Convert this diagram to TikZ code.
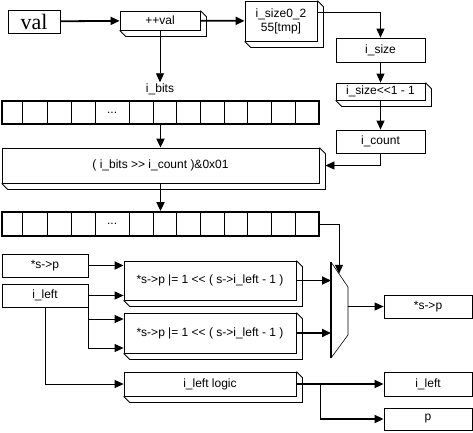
\documentclass[tikz,border=0pt]{standalone}
\usepackage{fontspec}
\setmainfont{Liberation Sans}
\newfontfamily\valfont{Liberation Serif}
\usetikzlibrary{arrows.meta,calc,shadows}
% 3D edge drawn behind the lower right of a block
\newcommand{\extrude}[1]{%
  \draw[line width=.8pt] (#1.north east) -- ++(6,6) -- ($(#1.south east)+(6,6)$)
    -- ($(#1.south west)+(6,6)$) -- (#1.south west);}

\begin{document}
\begin{tikzpicture}[x=1pt,y=-1pt,font=\fontsize{12}{14}\selectfont,
  box/.style={draw,fill=white,line width=.8pt,align=center,inner sep=1pt,
    drop shadow={shadow xshift=1.2pt,shadow yshift=-1.2pt,fill=black,opacity=1}},
  blk/.style={draw,fill=white,line width=.8pt,align=center,inner sep=1pt},
  sz/.style 2 args={minimum width=#1pt,minimum height=#2pt},
  bitrow/.style={draw,line width=1.8pt,minimum width=317pt,inner sep=0pt},
  lab/.style={inner sep=1pt},
  arr/.style={-{Triangle[length=9pt,width=8pt]},line width=.8pt},
  warr/.style={-{Triangle[length=9pt,width=8pt]},line width=1.8pt}]
\useasboundingbox (0,0) rectangle (473,432);
% top row
\node[box,sz={52}{23},font=\valfont\fontsize{22}{24}\selectfont] (val) at (34,21.5) {val};
\node[blk,sz={80}{19}] (incval) at (160,20.5) {++val};
\extrude{incval}
\node[blk,sz={72}{40}] (tmp) at (281,21) {i\_size0\_2\\55[tmp]};
\extrude{tmp}
\node[box,sz={89}{24}] (isize) at (380.5,50) {i\_size};
\node[blk,sz={89}{17}] (shift) at (380.5,91.5) {i\_size<{}<1 - 1};
\extrude{shift}
\node[box,sz={89}{23}] (icount) at (380.5,141.5) {i\_count};
\node[lab] (bitslab) at (160,89) {i\_bits};
% bit rows
\node[bitrow,minimum height=23pt] (bitsA) at (160.5,112.5) {};
\node[blk,sz={317}{35}] (bitsel) at (160.5,165.5) {( i\_bits >{}> i\_count )\&0x01};
\extrude{bitsel}
\node[bitrow,minimum height=24pt] (bitsB) at (160.5,224) {};
\foreach \r in {bitsA,bitsB} {
  \foreach \xd in {23,48,72,96,130,154,177,201,225,248,272,296}
    \draw[line width=.8pt] ($(\r.south west)+(\xd-2,0)$) -- ($(\r.north west)+(\xd-2,0)$);
  \node[lab] (\r dots) at ($(\r.west)+(111,0)$) {...};
}
% lower part
\node[box,sz={86}{23}] (sp) at (45,265.5) {*s->p};
\node[box,sz={86}{23}] (ileft) at (45,295.5) {i\_left};
\node[blk,sz={172}{39}] (or1) at (210,280.5) {*s->p |= 1 <{}< ( s->i\_left - 1 )};
\extrude{or1}
\node[blk,sz={172}{40}] (or2) at (210,333) {*s->p |= 1 <{}< ( s->i\_left - 1 )};
\extrude{or2}
\node[blk,sz={172}{24}] (logic) at (210,384) {i\_left logic};
\extrude{logic}
\node[box,sz={88}{23}] (spout) at (428,306.5) {*s->p};
\node[box,sz={88}{24}] (ileftout) at (428,384) {i\_left};
\node[box,sz={88}{22}] (pout) at (428,419) {p};
% mux
\coordinate (muxA) at (331,262);
\coordinate (muxB) at (348,287);
\coordinate (muxC) at (348,335);
\coordinate (muxD) at (331,358);
\draw[line width=.6pt] (muxA) -- (muxB) -- (muxC) -- (muxD);
\draw[line width=2pt] (muxA) -- (muxD);
% connectors
\draw[warr] (val) -- (incval);
\draw[warr] (incval) -- (tmp);
\draw[arr] (incval.south) -- (bitslab.north);
\draw[arr] ($(tmp.north east)+(0,12)$) -| (isize.north);
\draw[arr] (isize) -- (shift);
\draw[arr] (shift) -- (icount);
\draw[arr] (icount.south) |- ($(bitsel.east)+(6,0)$);
\draw[warr] (bitsA) -- (bitsel);
\draw[warr] (bitsel) -- (bitsB);
\draw[arr] (bitsB.east) -| ($(muxA)!.47!(muxB)$);
\draw[warr] (sp.east) -- (sp.east -| or1.west);
\draw[arr] (ileft.east) -- (ileft.east -| or1.west);
\draw[arr] (ileft.south east) |- ($(or2.west)+(0,-14)$);
\draw[arr] (ileft.south east) |- ($(or2.west)+(0,15)$);
\draw[arr] (ileft.south) |- (logic.west);
\draw[warr] (or1.east) -- (or1.east -| muxA);
\draw[warr] (or2.east) -- (or2.east -| muxA);
\draw[arr] (spout.west -| muxB) -- (spout.west);
\draw[warr] (logic.east) -- (ileftout.west);
\draw[warr] ($(logic.east)+(24,0)$) |- (pout.west);
\end{tikzpicture}
\end{document}
